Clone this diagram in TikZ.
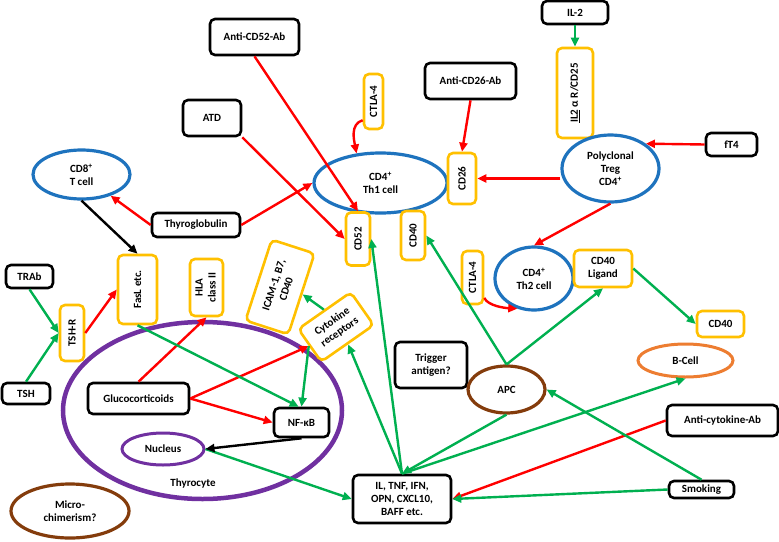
\documentclass[tikz,border=0pt]{standalone}
\usepackage{fontspec}
\setmainfont{Carlito}
\usepackage{graphicx}
\usetikzlibrary{shapes.geometric,arrows.meta}
\definecolor{cyel}{RGB}{255,192,0}
\definecolor{cblue}{RGB}{30,115,190}
\definecolor{cgreen}{RGB}{0,176,80}
\definecolor{cred}{RGB}{255,0,0}
\definecolor{cpurple}{RGB}{112,48,160}
\definecolor{cbrown}{RGB}{132,60,12}
\definecolor{corange}{RGB}{237,125,49}
\begin{document}
\begin{tikzpicture}[x=1pt,y=-1pt,
  every node/.style={font=\fontsize{11}{13}\selectfont\bfseries, inner sep=0pt, align=center},
  bbox/.style={draw=black, line width=2.6pt, rounded corners=5pt, fill=white},
  ybox/.style={draw=cyel, line width=2.6pt, rounded corners=5pt, fill=white},
  cell/.style={ellipse, line width=3.2pt},
  arr/.style={line width=2.4pt, -{Triangle[length=9pt,width=8pt]}},
  ra/.style={arr, draw=cred},
  ga/.style={arr, draw=cgreen},
  ka/.style={arr, draw=black},
]
\useasboundingbox (0,0) rectangle (779,541);
\fill[white] (0,0) rectangle (779,541);

% shapes
\node[cell, draw=cpurple, line width=4.5pt, minimum width=279pt, minimum height=177pt] (Thy) at (202.5,410.5) {};
\node[bbox, minimum width=89pt, minimum height=36pt] (aCD52) at (254.5,37) {Anti-CD52-Ab};
\node[bbox, minimum width=58pt, minimum height=36pt] (ATD) at (212,118) {ATD};
\node[ybox, minimum width=19pt, minimum height=55pt] (CTLAa) at (373.5,101.5) {\rotatebox{90}{CTLA-4}};
\node[cell, draw=cblue, minimum width=133pt, minimum height=60pt] (Th1) at (380.5,183) {CD4\textsuperscript{+}\\Th1 cell};
\node[ybox, minimum width=28pt, minimum height=51pt] (CD26) at (462,178.5) {\rotatebox{90}{CD26}};
\node[bbox, minimum width=91pt, minimum height=36pt] (aCD26) at (470.5,81) {Anti-CD26-Ab};
\node[bbox, minimum width=66pt, minimum height=23pt] (IL2) at (575,12.5) {IL-2};
\node[ybox, minimum width=36pt, minimum height=90pt] (IL2R) at (575,93) {\rotatebox{90}{\underline{IL2} α R/CD25}};
\node[bbox, minimum width=51pt, minimum height=23pt] (fT4) at (731.5,144.5) {fT4};
\node[cell, draw=cblue, minimum width=97pt, minimum height=67pt] (Treg) at (610.5,168.5) {Polyclonal\\Treg\\CD4\textsuperscript{+}};
\node[cell, draw=cblue, minimum width=97pt, minimum height=49pt] (CD8) at (81.5,174.5) {CD8\textsuperscript{+}\\T cell};
\node[bbox, minimum width=88pt, minimum height=24pt] (Tg) at (196,225) {Thyroglobulin};
\node[bbox, minimum width=47pt, minimum height=23pt] (TRAb) at (29.5,276.5) {TRAb};
\node[ybox, minimum width=39pt, minimum height=69pt] (FasL) at (137.5,289.5) {\rotatebox{90}{FasL etc.}};
\node[ybox, minimum width=33pt, minimum height=57pt] (HLA) at (206.5,287.5) {\rotatebox{90}{\begin{tabular}{@{}c@{}}HLA\\class II\end{tabular}}};
\node[ybox, minimum width=24pt, minimum height=56pt] (TSHR) at (72,333) {\rotatebox{90}{TSH-R}};
\node[bbox, minimum width=48pt, minimum height=21pt] (TSH) at (26,393.5) {TSH};
\node[bbox, minimum width=101pt, minimum height=31pt] (Gluco) at (138.5,398.5) {Glucocorticoids};
\node[cell, draw=cpurple, line width=3pt, minimum width=82pt, minimum height=32pt] (Nuc) at (163,449) {Nucleus};
\node (ThyL) at (193,483) {Thyrocyte};
\node[cell, draw=cbrown, minimum width=118pt, minimum height=54pt] (Micro) at (70,511) {Micro-\\chimerism?};
\node[bbox, minimum width=55pt, minimum height=29pt] (NFkB) at (301.5,422.5) {NF-κB};
\node[ybox, minimum width=85pt, minimum height=45pt, rotate=72] (ICAM) at (280,287) {ICAM-1, B7,\\CD40};
\node[ybox, minimum width=64pt, minimum height=40pt, rotate=35] (Cyto) at (336,327) {Cytokine\\receptors};
\node[ybox, minimum width=24pt, minimum height=53pt] (CD52) at (358,239) {\rotatebox{90}{CD52}};
\node[ybox, minimum width=24pt, minimum height=49pt] (CD40a) at (413,235.5) {\rotatebox{90}{CD40}};
\node[ybox, minimum width=21pt, minimum height=53pt] (CTLAb) at (472.5,277.5) {\rotatebox{90}{CTLA-4}};
\node[cell, draw=cblue, minimum width=78pt, minimum height=63pt] (Th2) at (534,278.5) {CD4\textsuperscript{+}\\Th2 cell};
\node[ybox, minimum width=58pt, minimum height=37pt] (CD40L) at (603,268.5) {CD40\\Ligand};
\node[ybox, minimum width=47pt, minimum height=26pt] (CD40b) at (720.5,324) {CD40};
\node[cell, draw=corange, line width=3pt, minimum width=95pt, minimum height=33pt] (BCell) at (685.5,360.5) {B-Cell};
\node[bbox, minimum width=72pt, minimum height=46pt] (Trig) at (431,365) {Trigger\\antigen?};
\node[cell, draw=cbrown, minimum width=77pt, minimum height=47pt] (APC) at (506.5,389.5) {APC};
\node[bbox, minimum width=98pt, minimum height=48pt] (IL) at (402,499) {IL, TNF, IFN,\\OPN, CXCL10,\\BAFF etc.};
\node[bbox, minimum width=111pt, minimum height=31pt] (aCyt) at (722.5,420.5) {Anti-cytokine-Ab};
\node[bbox, minimum width=65pt, minimum height=17pt] (Smok) at (701.5,489.5) {Smoking};

% red arrows
\draw[ra] (aCD52.south) -- (CD52.north);
\draw[ra] (ATD.south east) -- (CD52.west);
\draw[ra] (Tg.east) -- (Th1.west);
\draw[ra] (Tg.west) -- (CD8);
\draw[ra] (CTLAa.240) .. controls (350,124) and (354,140) .. (Th1.129);
\draw[ra] (aCD26.south) -- (CD26.north);
\draw[ra] (Treg.west |- CD26.east) -- (CD26.east);
\draw[ra] (fT4.west) -- (Treg.35);
\draw[ra] (Treg.south) -- (Th2.north);
\draw[ra] (CTLAb.-60) .. controls (488,306) and (505,308) .. (Th2.241);
\draw[ra] (TSHR.east) -- (FasL.west);
\draw[ra] (Gluco.north) -- (HLA.south);
\draw[ra] (Gluco.east) -- (Cyto.west);
\draw[ra] (Gluco.east) -- (NFkB.west);
\draw[ra] (aCyt.west) -- (IL.east);

% green arrows
\draw[ga] (IL2.south) -- (IL2R.north);
\draw[ga] (TRAb.south) -- (TSHR.west);
\draw[ga] (TSH.north) -- (TSHR.west);
\draw[ga] (FasL.south) -- (NFkB.100);
\draw[ga] (Cyto.north) -- (ICAM.south);
\draw[ga] (Cyto.west) -- (NFkB.north);
\draw[ga] (Nuc.east) -- (IL.west);
\draw[ga] (IL.north) -- (Cyto.south);
\draw[ga] (IL.north) -- (CD52.east);
\draw[ga] (APC.south) -- (IL.north);
\draw[ga] (IL.north) -- (BCell.south);
\draw[ga] (Smok.north) -- (APC.east);
\draw[ga] (Smok.west) -- (IL.east);
\draw[ga] (APC.north) -- (CD40L.south);
\draw[ga] (APC.north) -- (CD40a.east);
\draw[ga] (CD40L.east) -- (CD40b.west);

% black arrows
\draw[ka] (CD8.south) -- (FasL.north);
\draw[ka] (NFkB.south) -- (Nuc.east);
\end{tikzpicture}
\end{document}
